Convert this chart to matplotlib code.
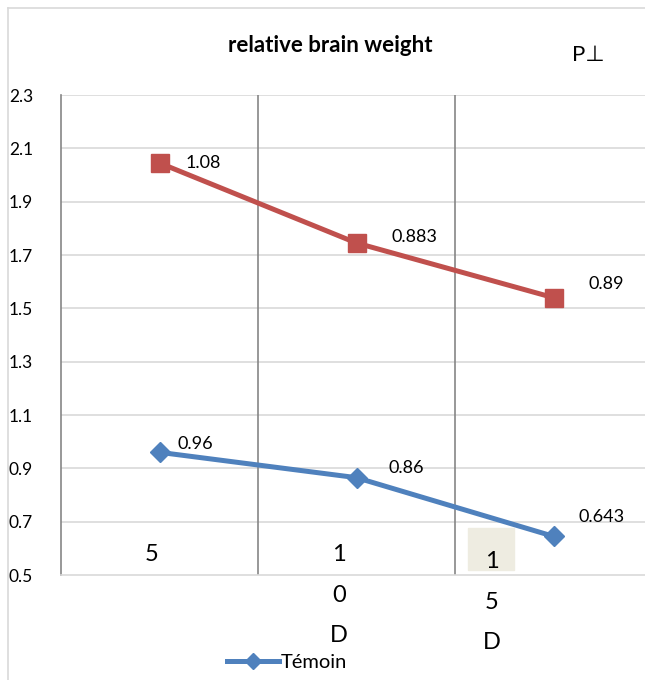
import matplotlib
matplotlib.use("Agg")
import matplotlib.pyplot as plt
from matplotlib.lines import Line2D
from matplotlib.patches import Rectangle

plt.rcParams["font.family"] = ["Lato", "DejaVu Sans"]

# données
x_pos = [0, 1, 2]
red_vals = [2.045, 1.745, 1.54]
red_labels = ["1.08", "0.883", "0.89"]
blue_vals = [0.96, 0.865, 0.645]
blue_labels = ["0.96", "0.86", "0.643"]
blue_name = "Témoin"
cat_labels = ["5", "1\n0\nD", "1\n5\nD"]
y_ticks = [0.5, 0.7, 0.9, 1.1, 1.3, 1.5, 1.7, 1.9, 2.1, 2.3]

RED = "#C0504D"
BLUE = "#4F81BD"

fig = plt.figure(figsize=(6.45, 6.8), dpi=100)
ax = fig.add_axes([61 / 645, 1 - 575 / 680, 591 / 645, 480 / 680])

ax.set_xlim(-0.5, 2.5)
ax.set_ylim(0.5, 2.3)
ax.set_yticks(y_ticks)
ax.set_yticklabels([f"{v:.1f}" for v in y_ticks])
ax.set_xticks([])
ax.tick_params(axis="y", length=0, labelsize=12.5, pad=20)

for s in ["top", "right"]:
    ax.spines[s].set_visible(False)
ax.spines["bottom"].set_color("#d9d9d9")
ax.spines["bottom"].set_linewidth(1.2)
ax.spines["left"].set_color("#868686")
ax.spines["left"].set_linewidth(1.2)

# grille
for v in y_ticks[1:]:
    ax.axhline(v, color="#d9d9d9", lw=1.2, zorder=0)
for xv in [0.5, 1.5]:
    ax.axvline(xv, color="#868686", lw=1.2, zorder=1)

ax.plot(x_pos, red_vals, color=RED, lw=3.6, marker="s", ms=13,
        zorder=3, clip_on=False)
ax.plot(x_pos, blue_vals, color=BLUE, lw=3.6, marker="D", ms=10,
        zorder=3, clip_on=False)

red_off = [(19, 0), (25, 4), (25, 10)]
blue_off = [(13, 6), (23, 7), (18, 14)]
for x, v, t, o in zip(x_pos, red_vals, red_labels, red_off):
    ax.annotate(t, (x, v), xytext=o, textcoords="offset points",
                fontsize=13, va="center", ha="left")
for x, v, t, o in zip(x_pos, blue_vals, blue_labels, blue_off):
    ax.annotate(t, (x, v), xytext=o, textcoords="offset points",
                fontsize=13, va="center", ha="left")

# étiquettes de catégories
ax.add_patch(Rectangle((1.565, 0.52), 0.235, 0.155, color="#eeece1",
                       zorder=1, clip_on=False))
cat_x = [-0.04, 0.91, 1.685]
cat_y = [0.615, 0.615, 0.59]
for x, y, t in zip(cat_x, cat_y, cat_labels):
    ax.text(x, y, t, fontsize=17, ha="center", va="top",
            linespacing=2.15, clip_on=False, zorder=4)

fig.text(0.512, 1 - 45 / 680, "relative brain weight", fontsize=16,
         fontweight="bold", ha="center", va="center")
fig.text(588 / 645, 1 - 55 / 680, "P⊥", fontsize=16, ha="center",
         va="center")

# cadre
fig.add_artist(Line2D([8 / 645, 8 / 645], [0, 1 - 8 / 680],
                      color="#d9d9d9", lw=1.2))
fig.add_artist(Line2D([8 / 645, 1], [1 - 8 / 680, 1 - 8 / 680],
                      color="#d9d9d9", lw=1.2))

handle = Line2D([], [], color=BLUE, lw=3.6, marker="D", ms=8)
fig.legend([handle], [blue_name], loc="center",
           bbox_to_anchor=(0.445, 1 - 662 / 680), frameon=False,
           fontsize=14.5, handlelength=2.6, handletextpad=0.1)

fig.savefig("out.png", dpi=100)
